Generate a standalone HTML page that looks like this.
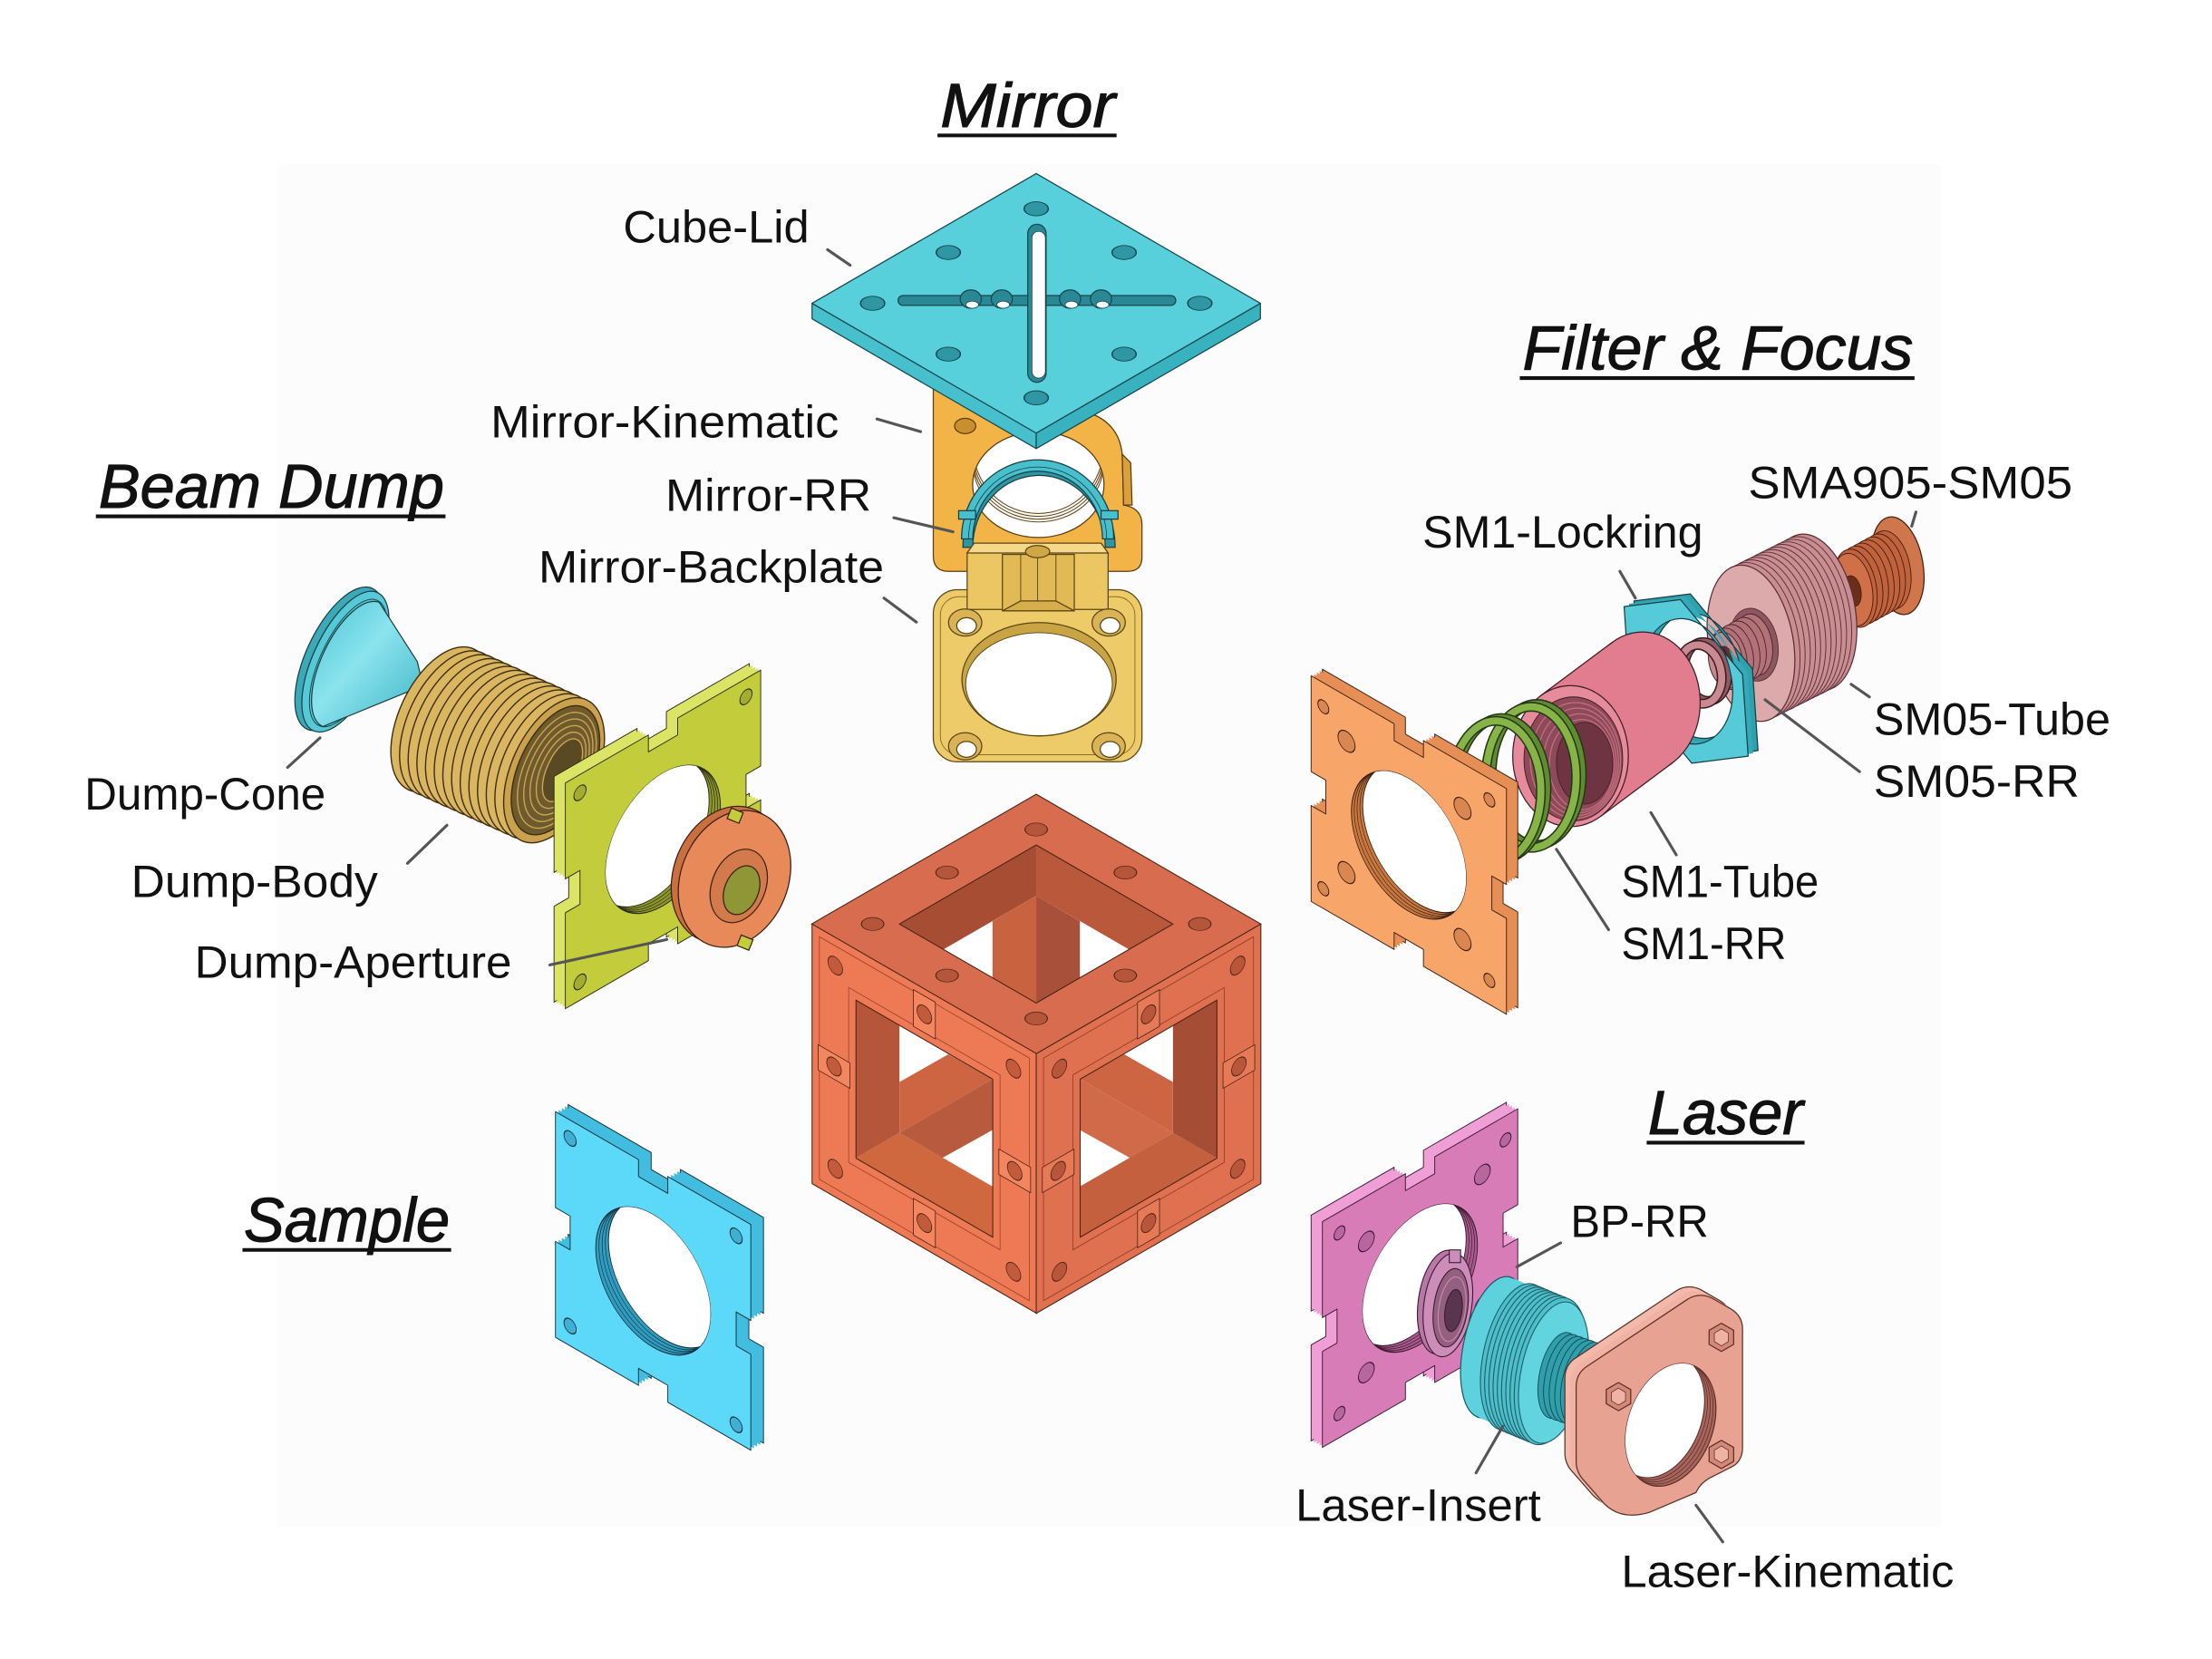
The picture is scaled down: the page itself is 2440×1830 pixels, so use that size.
<!DOCTYPE html>
<html><head><meta charset="utf-8">
<style>
html,body{margin:0;padding:0;background:#fff;}
svg{display:block;}
text{font-family:"Liberation Sans",sans-serif;fill:#111;}
</style></head><body>
<svg xmlns="http://www.w3.org/2000/svg" width="2440" height="1830" viewBox="0 0 1569 1176" preserveAspectRatio="none">
<defs>
<path id="plate" d="M0,0 H68 V12 H92 V0 H160 V68 H148 V92 H160 V160 H92 V148 H68 V160 H0 V92 H12 V68 H0 Z"/>
<clipPath id="hg"><circle cx="80" cy="80" r="47" transform="matrix(0.866 -0.5 0 1 401 555)"/></clipPath>
<clipPath id="hs"><circle cx="80" cy="80" r="47" transform="matrix(0.866 0.5 0 1 394 788)"/></clipPath>
<clipPath id="ho"><circle cx="80" cy="80" r="47" transform="matrix(0.866 0.5 0 1 930 479)"/></clipPath>
<clipPath id="hp"><circle cx="80" cy="80" r="47" transform="matrix(0.866 -0.5 0 1 938 866)"/></clipPath>
<clipPath id="hk"><ellipse cx="736.5" cy="343.5" rx="46.6" ry="37.5"/></clipPath>
<clipPath id="hlk"><ellipse cx="1185" cy="1010" rx="30" ry="45" transform="rotate(20 1185 1010)"/></clipPath>
<linearGradient id="coneG" x1="0" y1="0" x2="1" y2="1">
<stop offset="0" stop-color="#4cc3d1"/><stop offset="0.45" stop-color="#8ae4ee"/><stop offset="1" stop-color="#3fb3c2"/>
</linearGradient>
</defs>
<rect width="1569" height="1176" fill="#fff"/>
<rect x="197" y="117" width="1180" height="965" fill="#fcfcfc"/>

<!-- ============ BEAM DUMP ============ -->
<g stroke="#1d3f44" stroke-width="0.8">
<ellipse cx="241" cy="467" rx="24" ry="55" transform="rotate(25 241 467)" fill="#3aaab8"/>
<ellipse cx="245" cy="469" rx="23" ry="54" transform="rotate(25 245 469)" fill="#55c9d6"/>
<ellipse cx="247" cy="470" rx="20" ry="49" transform="rotate(25 247 470)" fill="none" stroke-width="0.6"/>
<ellipse cx="249" cy="471" rx="18" ry="45" transform="rotate(25 249 471)" fill="none" stroke-width="0.6"/>
<path d="M269,427 L296,469 L300,486 L229,515 A21 48 25 0 1 269,427 Z" fill="url(#coneG)"/>
</g>
<g stroke="#3e2e10" stroke-width="0.9" fill="#d9b65f">
<ellipse cx="313" cy="510" rx="30" ry="55" transform="rotate(25 313 510)"/>
<ellipse cx="319.2" cy="512.8" rx="30" ry="55" transform="rotate(25 319.2 512.8)"/>
<ellipse cx="325.3" cy="515.5" rx="30" ry="55" transform="rotate(25 325.3 515.5)"/>
<ellipse cx="331.5" cy="518.3" rx="30" ry="55" transform="rotate(25 331.5 518.3)"/>
<ellipse cx="337.6" cy="521.1" rx="30" ry="55" transform="rotate(25 337.6 521.1)"/>
<ellipse cx="343.8" cy="523.8" rx="30" ry="55" transform="rotate(25 343.8 523.8)"/>
<ellipse cx="349.9" cy="526.6" rx="30" ry="55" transform="rotate(25 349.9 526.6)"/>
<ellipse cx="356.1" cy="529.4" rx="30" ry="55" transform="rotate(25 356.1 529.4)"/>
<ellipse cx="362.2" cy="532.2" rx="30" ry="55" transform="rotate(25 362.2 532.2)"/>
<ellipse cx="368.4" cy="534.9" rx="30" ry="55" transform="rotate(25 368.4 534.9)"/>
<ellipse cx="374.5" cy="537.7" rx="30" ry="55" transform="rotate(25 374.5 537.7)"/>
<ellipse cx="380.7" cy="540.5" rx="30" ry="55" transform="rotate(25 380.7 540.5)"/>
<ellipse cx="386.8" cy="543.2" rx="30" ry="55" transform="rotate(25 386.8 543.2)"/>
<ellipse cx="393" cy="546" rx="30" ry="55" transform="rotate(25 393 546)" fill="#caa24e"/>
<ellipse cx="394" cy="546" rx="26" ry="49" transform="rotate(25 394 546)" fill="#6e5a2c"/>
<ellipse cx="395" cy="546" rx="23" ry="44" transform="rotate(25 395 546)" fill="none" stroke="#c9a552"/>
<ellipse cx="396" cy="546" rx="20" ry="39" transform="rotate(25 396 546)" fill="none" stroke="#c9a552"/>
<ellipse cx="397" cy="546" rx="17" ry="34" transform="rotate(25 397 546)" fill="none" stroke="#c9a552"/>
<ellipse cx="398" cy="546" rx="14" ry="29" transform="rotate(25 398 546)" fill="none" stroke="#c9a552"/>
<ellipse cx="399" cy="546" rx="11" ry="24" transform="rotate(25 399 546)" fill="#5a4a24" stroke="#c9a552"/>
</g>
<!-- green plate -->
<g stroke="#2b2b14" stroke-width="0.7" stroke-linejoin="round">
<g fill="#dce466">
<use href="#plate" transform="translate(-8,-4.6) matrix(0.866 -0.5 0 1 401 555)"/>
<use href="#plate" transform="translate(-6,-3.45) matrix(0.866 -0.5 0 1 401 555)" stroke="none"/>
<use href="#plate" transform="translate(-4,-2.3) matrix(0.866 -0.5 0 1 401 555)" stroke="none"/>
<use href="#plate" transform="translate(-2,-1.15) matrix(0.866 -0.5 0 1 401 555)" stroke="none"/>
</g>
<use href="#plate" transform="matrix(0.866 -0.5 0 1 401 555)" fill="#c3cd3b"/>
<g transform="matrix(0.866 -0.5 0 1 401 555)" fill="#a2ad30">
<circle cx="12" cy="13" r="5"/><circle cx="148" cy="13" r="5"/><circle cx="12" cy="147" r="5"/><circle cx="148" cy="147" r="5"/>
</g>
<circle cx="80" cy="80" r="47" transform="matrix(0.866 -0.5 0 1 401 555)" fill="#8d982b"/>
<g clip-path="url(#hg)" fill="none" stroke-width="0.5">
<circle cx="80" cy="80" r="47" transform="translate(-2,-1.15) matrix(0.866 -0.5 0 1 401 555)"/>
<circle cx="80" cy="80" r="47" transform="translate(-4,-2.3) matrix(0.866 -0.5 0 1 401 555)"/>
<circle cx="80" cy="80" r="47" transform="translate(-6,-3.45) matrix(0.866 -0.5 0 1 401 555)"/>
<circle cx="80" cy="80" r="47" transform="translate(-8,-4.6) matrix(0.866 -0.5 0 1 401 555)" fill="#fff" stroke-width="0.7"/>
</g>
</g>
<!-- aperture -->
<g stroke="#3a2010" stroke-width="0.8">
<ellipse cx="516" cy="620" rx="38" ry="50" transform="rotate(22 516 620)" fill="#c96f40"/>
<ellipse cx="521" cy="623" rx="38" ry="50" transform="rotate(22 521 623)" fill="#e8895a"/>
<ellipse cx="524" cy="628" rx="19" ry="27" transform="rotate(22 524 628)" fill="#d27a4c"/>
<ellipse cx="526" cy="631" rx="12" ry="18" transform="rotate(22 526 631)" fill="#8f9636"/>
<rect x="517" y="574" width="9" height="8" fill="#c3cd3b" transform="rotate(22 521 578)"/>
<rect x="524" y="664" width="9" height="8" fill="#c3cd3b" transform="rotate(22 528 668)"/>
</g>

<!-- ============ SAMPLE PLATE ============ -->
<g stroke="#14303a" stroke-width="0.7" stroke-linejoin="round">
<g fill="#42bde0">
<use href="#plate" transform="translate(9,-5) matrix(0.866 0.5 0 1 394 788)"/>
<use href="#plate" transform="translate(6.75,-3.75) matrix(0.866 0.5 0 1 394 788)" stroke="none"/>
<use href="#plate" transform="translate(4.5,-2.5) matrix(0.866 0.5 0 1 394 788)" stroke="none"/>
<use href="#plate" transform="translate(2.25,-1.25) matrix(0.866 0.5 0 1 394 788)" stroke="none"/>
</g>
<use href="#plate" transform="matrix(0.866 0.5 0 1 394 788)" fill="#5cd8f8"/>
<g transform="matrix(0.866 0.5 0 1 394 788)" fill="#3fb0d4">
<circle cx="12" cy="13" r="5"/><circle cx="148" cy="14" r="5"/><circle cx="12" cy="146" r="5"/><circle cx="148" cy="148" r="5"/>
</g>
<circle cx="80" cy="80" r="47" transform="matrix(0.866 0.5 0 1 394 788)" fill="#2f9cc0"/>
<g clip-path="url(#hs)" fill="none" stroke-width="0.5">
<circle cx="80" cy="80" r="47" transform="translate(2.25,-1.25) matrix(0.866 0.5 0 1 394 788)"/>
<circle cx="80" cy="80" r="47" transform="translate(4.5,-2.5) matrix(0.866 0.5 0 1 394 788)"/>
<circle cx="80" cy="80" r="47" transform="translate(6.75,-3.75) matrix(0.866 0.5 0 1 394 788)"/>
<circle cx="80" cy="80" r="47" transform="translate(9,-5) matrix(0.866 0.5 0 1 394 788)" fill="#fff" stroke-width="0.7"/>
</g>
</g>

<!-- ============ MIRROR ============ -->
<g stroke="#5a3d10" stroke-width="0.8">
<path d="M662,270 L662,394 Q662,405 673,405 L800,405 Q810,405 810,395 L810,372 Q810,360 797,358 L796,322 Q794,302 776,294 L740,278 Z" fill="#f2b447"/>
<path d="M796,322 L802,328 L803,358 L797,358 Z" fill="#dca03a"/>
<ellipse cx="736.5" cy="343.5" rx="46.6" ry="37.5" fill="#fff"/>
<g clip-path="url(#hk)" fill="none" stroke="#6b4a1d" stroke-width="0.7">
<ellipse cx="736.5" cy="330" rx="46" ry="40"/>
<ellipse cx="736.5" cy="326" rx="46" ry="42"/>
<ellipse cx="736.5" cy="322" rx="46" ry="44"/>
<ellipse cx="736.5" cy="318" rx="46" ry="46"/>
</g>
<ellipse cx="684.6" cy="302" rx="7.5" ry="5.4" fill="#c98f2e"/>
</g>
<g stroke="#173f44" stroke-width="0.8">
<path d="M683,388 A54,58 0 0 1 791,388 L784,388 A47,51 0 0 0 690,388 Z" fill="#2e95a2"/>
<path d="M682,382 A54,56 0 0 1 790,382 L782,382 A46,48 0 0 0 690,382 Z" fill="#47bfcc"/>
<path d="M687,382 A49,51 0 0 1 785,382" fill="none" stroke-width="0.5"/>
<rect x="680" y="362" width="12" height="6" fill="#47bfcc"/>
<rect x="781" y="362" width="12" height="6" fill="#47bfcc"/>
</g>
<g stroke="#5a4515" stroke-width="0.8">
<rect x="662" y="418" width="148" height="122" rx="17" fill="#eecb69"/>
<rect x="667" y="423" width="138" height="112" rx="13" fill="none" stroke="#8a6d25" stroke-width="0.6"/>
<path d="M686,432 L686,392 L691,385 L781,385 L786,392 L786,432 Z" fill="#ebc663"/>
<path d="M686,392 L691,385 L781,385 L786,392 Z" fill="#f5d889"/>
<rect x="711" y="393" width="51" height="40" fill="#e2ba55"/>
<line x1="724" y1="393" x2="724" y2="433" stroke-width="0.6"/>
<line x1="736" y1="393" x2="736" y2="433" stroke-width="0.6"/>
<line x1="749" y1="393" x2="749" y2="433" stroke-width="0.6"/>
<path d="M711,433 L724,426 L749,426 L762,433 Z" fill="#d6ae4c"/>
<ellipse cx="736" cy="391" rx="8.6" ry="4.3" fill="#cfa744"/>
<ellipse cx="737" cy="481.5" rx="54.7" ry="40.2" fill="#c9a445"/>
<ellipse cx="737" cy="485" rx="52" ry="36.5" fill="#fff" stroke-width="0.6"/>
<ellipse cx="684.6" cy="441.3" rx="11.8" ry="9.6" fill="#d9b356"/>
<ellipse cx="786.4" cy="441.3" rx="11.8" ry="9.6" fill="#d9b356"/>
<ellipse cx="684.6" cy="529" rx="11.8" ry="9.6" fill="#d9b356"/>
<ellipse cx="786.4" cy="529" rx="11.8" ry="9.6" fill="#d9b356"/>
<ellipse cx="685.6" cy="443.5" rx="7" ry="5.6" fill="#fff"/>
<ellipse cx="787.4" cy="443.5" rx="7" ry="5.6" fill="#fff"/>
<ellipse cx="685.6" cy="531.2" rx="7" ry="5.6" fill="#fff"/>
<ellipse cx="787.4" cy="531.2" rx="7" ry="5.6" fill="#fff"/>
</g>
<!-- lid -->
<g stroke="#17474d" stroke-width="0.8" stroke-linejoin="round">
<polygon points="576,215 735,307 735,318 576,226" fill="#46c0cd"/>
<polygon points="735,307 894,215 894,226 735,318" fill="#39b2bf"/>
<polygon points="735,123 894,215 735,307 576,215" fill="#57d0dc"/>
<g transform="matrix(0.866 0.5 -0.866 0.5 735 123)" fill="#2f97a3">
<circle cx="25" cy="25" r="7"/><circle cx="159" cy="25" r="7"/><circle cx="25" cy="159" r="7"/><circle cx="159" cy="159" r="7"/>
<circle cx="92" cy="20" r="7"/><circle cx="20" cy="92" r="7"/><circle cx="164" cy="92" r="7"/><circle cx="92" cy="164" r="7"/>
</g>
<rect x="637" y="209.5" width="197" height="7" rx="3.5" fill="#2a8894"/>
<ellipse cx="688.6" cy="212" rx="7.5" ry="6.5" fill="#2a8894"/>
<ellipse cx="710.6" cy="212" rx="7.5" ry="6.5" fill="#2a8894"/>
<ellipse cx="759" cy="212" rx="7.5" ry="6.5" fill="#2a8894"/>
<ellipse cx="781" cy="212" rx="7.5" ry="6.5" fill="#2a8894"/>
<g fill="#fff" stroke-width="0.5">
<ellipse cx="689.6" cy="216" rx="4.5" ry="2.5"/><ellipse cx="711.6" cy="216" rx="4.5" ry="2.5"/>
<ellipse cx="760" cy="216" rx="4.5" ry="2.5"/><ellipse cx="782" cy="216" rx="4.5" ry="2.5"/>
</g>
<rect x="729" y="159" width="13" height="112" rx="6.5" fill="#2a8894"/>
<rect x="732" y="164" width="9.5" height="104" rx="4.75" fill="#fff" stroke-width="0.5"/>
</g>

<!-- ============ CUBE ============ -->
<g stroke="none">
<polygon points="735,599 832,655 735,711 638,655" fill="#fff"/>
<polygon points="735,599 638,655 669.2,673 735,635" fill="#a64d34"/>
<polygon points="735,599 832,655 800.8,673 735,635" fill="#b9583b"/>
<polygon points="704,653 735,635 735,711 704,693" fill="#c9623f"/>
<polygon points="735,635 766,653 766,693 735,711" fill="#a9503a"/>
<polygon points="607,709 704,765 704,877 607,821" fill="#fff"/>
<polygon points="607,709 638,727 638,803 607,821" fill="#b5553a"/>
<polygon points="638,767 672.6,747.4 704,765 638,803" fill="#cd6543"/>
<polygon points="638,803 704,765 704,801 668.6,820.7" fill="#b85a3e"/>
<polygon points="607,821 638,803 704,841 704,877" fill="#d0683f"/>
<polygon points="766,765 863,709 863,821 766,877" fill="#fff"/>
<polygon points="863,709 832,727 832,803 863,821" fill="#a64d35"/>
<polygon points="832,767 797.4,747.4 766,765 832,803" fill="#cd6543"/>
<polygon points="832,803 766,765 766,801 801.4,820.7" fill="#d06a48"/>
<polygon points="863,821 832,803 766,841 766,877" fill="#c5603e"/>
</g>
<g stroke="#4a2416" stroke-width="0.8" stroke-linejoin="round">
<g transform="matrix(0.866 0.5 -0.866 0.5 735 563)">
<path d="M0,0H184V184H0Z M36,36V148H148V36Z" fill="#d76c4e" fill-rule="evenodd"/>
<g fill="#b5553a" stroke-width="0.6">
<circle cx="25" cy="25" r="6.5"/><circle cx="159" cy="25" r="6.5"/><circle cx="25" cy="159" r="6.5"/><circle cx="159" cy="159" r="6.5"/>
<circle cx="92" cy="19" r="6.5"/><circle cx="19" cy="92" r="6.5"/><circle cx="165" cy="92" r="6.5"/><circle cx="92" cy="165" r="6.5"/>
</g>
</g>
<g transform="matrix(0.866 0.5 0 1 576 655)">
<path d="M0,0H184V184H0Z M36,36V148H148V36Z" fill="#ee7a55" fill-rule="evenodd"/>
<rect x="6" y="6" width="172" height="172" fill="none" stroke="#9a4128" stroke-width="0.6"/>
<rect x="30" y="30" width="124" height="124" fill="none" stroke="#9a4128" stroke-width="0.6"/>
<g fill="#f3855f" stroke-width="0.6">
<rect x="83" y="5" width="18" height="26"/><rect x="5" y="83" width="26" height="18"/>
<rect x="153" y="83" width="26" height="18"/><rect x="83" y="153" width="18" height="26"/>
</g>
<g fill="#c25b3c" stroke-width="0.6">
<circle cx="92" cy="18" r="6"/><circle cx="18" cy="92" r="6"/><circle cx="166" cy="92" r="6"/><circle cx="92" cy="166" r="6"/>
<circle cx="19" cy="20" r="6"/><circle cx="165" cy="20" r="6"/><circle cx="19" cy="164" r="6"/><circle cx="165" cy="164" r="6"/>
</g>
</g>
<g transform="matrix(0.866 -0.5 0 1 735 747)">
<path d="M0,0H184V184H0Z M36,36V148H148V36Z" fill="#e07150" fill-rule="evenodd"/>
<rect x="6" y="6" width="172" height="172" fill="none" stroke="#8e3c25" stroke-width="0.6"/>
<rect x="30" y="30" width="124" height="124" fill="none" stroke="#8e3c25" stroke-width="0.6"/>
<g fill="#e67a57" stroke-width="0.6">
<rect x="83" y="5" width="18" height="26"/><rect x="5" y="83" width="26" height="18"/>
<rect x="153" y="83" width="26" height="18"/><rect x="83" y="153" width="18" height="26"/>
</g>
<g fill="#b9553a" stroke-width="0.6">
<circle cx="92" cy="18" r="6"/><circle cx="18" cy="92" r="6"/><circle cx="166" cy="92" r="6"/><circle cx="92" cy="166" r="6"/>
<circle cx="19" cy="20" r="6"/><circle cx="165" cy="20" r="6"/><circle cx="19" cy="164" r="6"/><circle cx="165" cy="164" r="6"/>
</g>
</g>
</g>

<!-- ============ FILTER & FOCUS ============ -->
<g stroke="#4a1e0e" stroke-width="0.6">
<ellipse cx="1346" cy="401" rx="18" ry="35" transform="rotate(-10 1346 401)" fill="#d0764c" stroke-width="0.8"/>
<ellipse cx="1340" cy="404" rx="15" ry="28" transform="rotate(-10 1340 404)" fill="#c0633d"/>
<ellipse cx="1336" cy="406.2" rx="15" ry="28" transform="rotate(-10 1336 406.2)" fill="#c0633d"/>
<ellipse cx="1332" cy="408.3" rx="15" ry="28" transform="rotate(-10 1332 408.3)" fill="#c0633d"/>
<ellipse cx="1328" cy="410.5" rx="15" ry="28" transform="rotate(-10 1328 410.5)" fill="#c0633d"/>
<ellipse cx="1324" cy="412.7" rx="15" ry="28" transform="rotate(-10 1324 412.7)" fill="#c0633d"/>
<ellipse cx="1320" cy="414.8" rx="15" ry="28" transform="rotate(-10 1320 414.8)" fill="#c0633d"/>
<ellipse cx="1316" cy="417" rx="15" ry="28" transform="rotate(-10 1316 417)" fill="#c0633d"/>
<ellipse cx="1314" cy="418" rx="14" ry="26" transform="rotate(-10 1314 418)" fill="#cf7048"/>
<ellipse cx="1314" cy="419" rx="6" ry="11" transform="rotate(-10 1314 419)" fill="#6b2e18"/>
</g>
<g stroke="#5a2e34" stroke-width="0.6" fill="#c98e92">
<ellipse cx="1286" cy="434" rx="30" ry="56" transform="rotate(-10 1286 434)" stroke-width="0.8"/>
<ellipse cx="1282.3" cy="435.8" rx="30" ry="56" transform="rotate(-10 1282.3 435.8)"/>
<ellipse cx="1278.7" cy="437.7" rx="30" ry="56" transform="rotate(-10 1278.7 437.7)"/>
<ellipse cx="1275" cy="439.5" rx="30" ry="56" transform="rotate(-10 1275 439.5)"/>
<ellipse cx="1271.3" cy="441.3" rx="30" ry="56" transform="rotate(-10 1271.3 441.3)"/>
<ellipse cx="1267.7" cy="443.2" rx="30" ry="56" transform="rotate(-10 1267.7 443.2)"/>
<ellipse cx="1264" cy="445" rx="30" ry="56" transform="rotate(-10 1264 445)"/>
<ellipse cx="1260.3" cy="446.8" rx="30" ry="56" transform="rotate(-10 1260.3 446.8)"/>
<ellipse cx="1256.7" cy="448.7" rx="30" ry="56" transform="rotate(-10 1256.7 448.7)"/>
<ellipse cx="1253" cy="450.5" rx="30" ry="56" transform="rotate(-10 1253 450.5)"/>
<ellipse cx="1249.3" cy="452.3" rx="30" ry="56" transform="rotate(-10 1249.3 452.3)"/>
<ellipse cx="1245.7" cy="454.2" rx="30" ry="56" transform="rotate(-10 1245.7 454.2)"/>
<ellipse cx="1242" cy="456" rx="30" ry="56" transform="rotate(-10 1242 456)" fill="#dcaaab" stroke-width="0.8"/>
<ellipse cx="1244" cy="457" rx="17" ry="26" transform="rotate(-10 1244 457)" fill="#8e5660"/>
</g>
<g stroke="#4a262c" stroke-width="0.6" fill="#b27278">
<ellipse cx="1244" cy="457" rx="13" ry="22" transform="rotate(-10 1244 457)"/>
<ellipse cx="1239.5" cy="459.5" rx="13" ry="22" transform="rotate(-10 1239.5 459.5)"/>
<ellipse cx="1235" cy="462" rx="13" ry="22" transform="rotate(-10 1235 462)"/>
<ellipse cx="1230.5" cy="464.5" rx="13" ry="22" transform="rotate(-10 1230.5 464.5)"/>
<ellipse cx="1226" cy="467" rx="13" ry="22" transform="rotate(-10 1226 467)"/>
<ellipse cx="1224" cy="468" rx="12" ry="20" transform="rotate(-10 1224 468)" fill="#c58a90"/>
<ellipse cx="1224" cy="469" rx="6" ry="11" transform="rotate(-10 1224 469)" fill="#5a3036"/>
</g>
<g fill="none">
<ellipse cx="1210" cy="476" rx="15" ry="21" transform="rotate(-10 1210 476)" stroke="#3a1e22" stroke-width="7"/>
<ellipse cx="1210" cy="476" rx="15" ry="21" transform="rotate(-10 1210 476)" stroke="#8f5a62" stroke-width="5"/>
<ellipse cx="1206" cy="478" rx="15" ry="21" transform="rotate(-10 1206 478)" stroke="#3a1e22" stroke-width="7"/>
<ellipse cx="1206" cy="478" rx="15" ry="21" transform="rotate(-10 1206 478)" stroke="#c98a92" stroke-width="5"/>
</g>
<g stroke="#173f44" stroke-width="0.8" fill-rule="evenodd" stroke-linejoin="round">
<path transform="translate(7,-4)" d="M1192,425 L1236,478 L1240,536 L1200,541 L1156,488 L1152,430 Z M1227.3,476.6 A31,43 -12 1 0 1166.7,489.4 A31,43 -12 1 0 1227.3,476.6 Z" fill="#2fa0ae"/>
<path transform="translate(3.5,-2)" d="M1192,425 L1236,478 L1240,536 L1200,541 L1156,488 L1152,430 Z M1227.3,476.6 A31,43 -12 1 0 1166.7,489.4 A31,43 -12 1 0 1227.3,476.6 Z" fill="#34a9b7" stroke="none"/>
<path d="M1192,425 L1236,478 L1240,536 L1200,541 L1156,488 L1152,430 Z M1227.3,476.6 A31,43 -12 1 0 1166.7,489.4 A31,43 -12 1 0 1227.3,476.6 Z" fill="#55cad8"/>
</g>
<g fill="#e17d8e" stroke="none">
<ellipse cx="1165" cy="498" rx="41" ry="50" stroke="#3e1c24" stroke-width="0.8"/>
<ellipse cx="1158.6" cy="502.75" rx="41" ry="50"/>
<ellipse cx="1152.25" cy="507.5" rx="41" ry="50"/>
<ellipse cx="1145.9" cy="512.25" rx="41" ry="50"/>
<ellipse cx="1139.5" cy="517" rx="41" ry="50"/>
<ellipse cx="1133.1" cy="521.75" rx="41" ry="50"/>
<ellipse cx="1126.75" cy="526.5" rx="41" ry="50"/>
<ellipse cx="1120.4" cy="531.25" rx="41" ry="50"/>
</g>
<g stroke="#3e1c24" stroke-width="0.8">
<line x1="1186.4" y1="540.7" x2="1135.4" y2="578.7"/>
<line x1="1143.6" y1="455.3" x2="1092.6" y2="493.3"/>
<ellipse cx="1114" cy="536" rx="41" ry="50" fill="#e68b9b"/>
<ellipse cx="1116" cy="538" rx="35" ry="44" fill="#8f4a59" stroke-width="0.6"/>
<g fill="none" stroke="#c2707f" stroke-width="0.8">
<ellipse cx="1117.5" cy="539" rx="32" ry="41"/>
<ellipse cx="1119" cy="540" rx="29" ry="38"/>
<ellipse cx="1120.5" cy="541" rx="26" ry="35"/>
<ellipse cx="1122" cy="542" rx="23" ry="32"/>
</g>
<ellipse cx="1124" cy="541" rx="20" ry="29" fill="#6e3442" stroke-width="0.5"/>
</g>
<g fill="none">
<ellipse cx="1090" cy="549" rx="32" ry="50" stroke="#26361a" stroke-width="7"/>
<ellipse cx="1090" cy="549" rx="32" ry="50" stroke="#5f8c2f" stroke-width="5"/>
<ellipse cx="1086" cy="551" rx="32" ry="50" stroke="#26361a" stroke-width="7"/>
<ellipse cx="1086" cy="551" rx="32" ry="50" stroke="#86b446" stroke-width="5"/>
<ellipse cx="1065" cy="559" rx="32" ry="50" stroke="#26361a" stroke-width="7"/>
<ellipse cx="1065" cy="559" rx="32" ry="50" stroke="#5f8c2f" stroke-width="5"/>
<ellipse cx="1061" cy="561" rx="32" ry="50" stroke="#26361a" stroke-width="7"/>
<ellipse cx="1061" cy="561" rx="32" ry="50" stroke="#86b446" stroke-width="5"/>
</g>
<g stroke="#3a2010" stroke-width="0.7" stroke-linejoin="round">
<g fill="#e58e56">
<use href="#plate" transform="translate(8,-4.6) matrix(0.866 0.5 0 1 930 479)"/>
<use href="#plate" transform="translate(6,-3.45) matrix(0.866 0.5 0 1 930 479)" stroke="none"/>
<use href="#plate" transform="translate(4,-2.3) matrix(0.866 0.5 0 1 930 479)" stroke="none"/>
<use href="#plate" transform="translate(2,-1.15) matrix(0.866 0.5 0 1 930 479)" stroke="none"/>
</g>
<use href="#plate" transform="matrix(0.866 0.5 0 1 930 479)" fill="#f8a56a"/>
<g transform="matrix(0.866 0.5 0 1 930 479)" fill="#d98650">
<circle cx="10" cy="17" r="4.5"/><circle cx="146" cy="15" r="4.5"/><circle cx="10" cy="146" r="4.5"/><circle cx="146" cy="143" r="4.5"/>
<circle cx="29" cy="32" r="7"/><circle cx="124" cy="32" r="7"/><circle cx="29" cy="125" r="7"/><circle cx="124" cy="125" r="7"/>
</g>
<circle cx="80" cy="80" r="47" transform="matrix(0.866 0.5 0 1 930 479)" fill="#c8773f"/>
<g clip-path="url(#ho)" fill="none" stroke-width="0.5">
<circle cx="80" cy="80" r="47" transform="translate(2,-1.15) matrix(0.866 0.5 0 1 930 479)"/>
<circle cx="80" cy="80" r="47" transform="translate(4,-2.3) matrix(0.866 0.5 0 1 930 479)"/>
<circle cx="80" cy="80" r="47" transform="translate(6,-3.45) matrix(0.866 0.5 0 1 930 479)"/>
<circle cx="80" cy="80" r="47" transform="translate(8,-4.6) matrix(0.866 0.5 0 1 930 479)" fill="#fff" stroke-width="0.7"/>
</g>
</g>

<!-- ============ LASER ============ -->
<g stroke="#3a1a30" stroke-width="0.7" stroke-linejoin="round">
<g fill="#ef9fd6">
<use href="#plate" transform="translate(-8,-4.6) matrix(0.866 -0.5 0 1 938 866)"/>
<use href="#plate" transform="translate(-6,-3.45) matrix(0.866 -0.5 0 1 938 866)" stroke="none"/>
<use href="#plate" transform="translate(-4,-2.3) matrix(0.866 -0.5 0 1 938 866)" stroke="none"/>
<use href="#plate" transform="translate(-2,-1.15) matrix(0.866 -0.5 0 1 938 866)" stroke="none"/>
</g>
<use href="#plate" transform="matrix(0.866 -0.5 0 1 938 866)" fill="#d77cb7"/>
<g transform="matrix(0.866 -0.5 0 1 938 866)" fill="#b866a0">
<circle cx="14" cy="15" r="4.5"/><circle cx="150" cy="17" r="4.5"/><circle cx="14" cy="143" r="4.5"/><circle cx="150" cy="146" r="4.5"/>
<circle cx="36" cy="32" r="6.5"/><circle cx="131" cy="32" r="6.5"/><circle cx="36" cy="125" r="6.5"/><circle cx="131" cy="125" r="6.5"/>
</g>
<circle cx="80" cy="80" r="47" transform="matrix(0.866 -0.5 0 1 938 866)" fill="#a85a8c"/>
<g clip-path="url(#hp)" fill="none" stroke-width="0.5">
<circle cx="80" cy="80" r="47" transform="translate(-2,-1.15) matrix(0.866 -0.5 0 1 938 866)"/>
<circle cx="80" cy="80" r="47" transform="translate(-4,-2.3) matrix(0.866 -0.5 0 1 938 866)"/>
<circle cx="80" cy="80" r="47" transform="translate(-6,-3.45) matrix(0.866 -0.5 0 1 938 866)"/>
<circle cx="80" cy="80" r="47" transform="translate(-8,-4.6) matrix(0.866 -0.5 0 1 938 866)" fill="#fff" stroke-width="0.7"/>
</g>
</g>
<g stroke="#3a1a30" stroke-width="0.7">
<ellipse cx="1023" cy="923" rx="17" ry="37" transform="rotate(8 1023 923)" fill="#b877a5"/>
<ellipse cx="1027" cy="925" rx="17" ry="37" transform="rotate(8 1027 925)" fill="#cd8dbb"/>
<ellipse cx="1029" cy="927" rx="12" ry="28" transform="rotate(8 1029 927)" fill="#94607f"/>
<ellipse cx="1030" cy="928" rx="9.5" ry="23" transform="rotate(8 1030 928)" fill="none" stroke="#c98ab4"/>
<ellipse cx="1031" cy="929" rx="6" ry="15" transform="rotate(8 1031 929)" fill="#5a3550"/>
<rect x="1028" y="886" width="8" height="9" fill="#cd8dbb"/>
</g>
<g fill="#5dd2de" stroke="none">
<ellipse cx="1060" cy="955" rx="22" ry="51" transform="rotate(12 1060 955)" stroke="#1f5c64" stroke-width="0.8"/>
<ellipse cx="1063.5" cy="956.5" rx="22" ry="51" transform="rotate(12 1063.5 956.5)"/>
<ellipse cx="1067" cy="958" rx="22" ry="51" transform="rotate(12 1067 958)"/>
<ellipse cx="1070.5" cy="959.5" rx="22" ry="51" transform="rotate(12 1070.5 959.5)"/>
<ellipse cx="1074" cy="961" rx="22" ry="51" transform="rotate(12 1074 961)"/>
</g>
<g fill="#4cbfcb" stroke="#1f5c64" stroke-width="0.7">
<ellipse cx="1076" cy="962" rx="24" ry="53" transform="rotate(12 1076 962)"/>
<ellipse cx="1079" cy="963.25" rx="24" ry="53" transform="rotate(12 1079 963.25)"/>
<ellipse cx="1082" cy="964.5" rx="24" ry="53" transform="rotate(12 1082 964.5)"/>
<ellipse cx="1085" cy="965.75" rx="24" ry="53" transform="rotate(12 1085 965.75)"/>
<ellipse cx="1088" cy="967" rx="24" ry="53" transform="rotate(12 1088 967)"/>
<ellipse cx="1091" cy="968.25" rx="24" ry="53" transform="rotate(12 1091 968.25)"/>
<ellipse cx="1094" cy="969.5" rx="24" ry="53" transform="rotate(12 1094 969.5)"/>
<ellipse cx="1097" cy="970.75" rx="24" ry="53" transform="rotate(12 1097 970.75)"/>
<ellipse cx="1100" cy="972" rx="24" ry="53" transform="rotate(12 1100 972)"/>
<ellipse cx="1102" cy="973" rx="23" ry="51" transform="rotate(12 1102 973)" fill="#62d4e0"/>
</g>
<g fill="#2f9fac" stroke="#174a50" stroke-width="0.6">
<ellipse cx="1106" cy="975" rx="14" ry="31" transform="rotate(12 1106 975)"/>
<ellipse cx="1110" cy="976.4" rx="14" ry="31" transform="rotate(12 1110 976.4)"/>
<ellipse cx="1114" cy="977.8" rx="14" ry="31" transform="rotate(12 1114 977.8)"/>
<ellipse cx="1118" cy="979.2" rx="14" ry="31" transform="rotate(12 1118 979.2)"/>
<ellipse cx="1122" cy="980.6" rx="14" ry="31" transform="rotate(12 1122 980.6)"/>
<ellipse cx="1126" cy="982" rx="14" ry="31" transform="rotate(12 1126 982)"/>
<ellipse cx="1128" cy="983" rx="13" ry="29" transform="rotate(12 1128 983)" fill="#45b5c2"/>
</g>
<g stroke="#5a3028" stroke-width="0.8" stroke-linejoin="round">
<path transform="translate(-8,-6)" d="M1125,969 L1197,921 Q1205,916 1214,920 L1228,928 Q1236,933 1236,942 L1236,1026 Q1236,1036 1228,1040 L1214,1047 Q1206,1051 1203,1058 L1170,1072 Q1150,1078 1138,1066 L1124,1050 Q1118,1044 1118,1036 L1118,983 Q1118,974 1125,969 Z" fill="#f3b9aa"/>
<path transform="translate(-4,-3)" d="M1125,969 L1197,921 Q1205,916 1214,920 L1228,928 Q1236,933 1236,942 L1236,1026 Q1236,1036 1228,1040 L1214,1047 Q1206,1051 1203,1058 L1170,1072 Q1150,1078 1138,1066 L1124,1050 Q1118,1044 1118,1036 L1118,983 Q1118,974 1125,969 Z" fill="#f0b2a2" stroke="none"/>
<path d="M1125,969 L1197,921 Q1205,916 1214,920 L1228,928 Q1236,933 1236,942 L1236,1026 Q1236,1036 1228,1040 L1214,1047 Q1206,1051 1203,1058 L1170,1072 Q1150,1078 1138,1066 L1124,1050 Q1118,1044 1118,1036 L1118,983 Q1118,974 1125,969 Z" fill="#e8a292"/>
<ellipse cx="1185" cy="1010" rx="30" ry="45" transform="rotate(20 1185 1010)" fill="#a8655c"/>
<g clip-path="url(#hlk)" fill="none" stroke-width="0.5">
<ellipse cx="1183" cy="1008.5" rx="30" ry="45" transform="rotate(20 1183 1008.5)"/>
<ellipse cx="1181" cy="1007" rx="30" ry="45" transform="rotate(20 1181 1007)"/>
<ellipse cx="1179" cy="1005.5" rx="30" ry="45" transform="rotate(20 1179 1005.5)"/>
<ellipse cx="1177" cy="1004" rx="30" ry="45" transform="rotate(20 1177 1004)" fill="#fff" stroke-width="0.7"/>
</g>
<g fill="#d48878">
<polygon points="1221,938 1229.7,943 1229.7,953 1221,958 1212.3,953 1212.3,943"/>
<polygon points="1148,980 1156.7,985 1156.7,995 1148,1000 1139.3,995 1139.3,985"/>
<polygon points="1221,1021 1229.7,1026 1229.7,1036 1221,1041 1212.3,1036 1212.3,1026"/>
</g>
<g fill="#efb3a4" stroke-width="0.5">
<polygon points="1221,942 1226,945 1226,951 1221,954 1216,951 1216,945"/>
<polygon points="1148,984 1153,987 1153,993 1148,996 1143,993 1143,987"/>
<polygon points="1221,1025 1226,1028 1226,1034 1221,1037 1216,1034 1216,1028"/>
</g>
</g>

<!-- ============ LEADER LINES ============ -->
<g stroke="#555" stroke-width="2" stroke-linecap="round">
<line x1="587" y1="177" x2="603" y2="188"/>
<line x1="622" y1="297" x2="653" y2="306"/>
<line x1="634" y1="367" x2="676" y2="377"/>
<line x1="627" y1="424" x2="650" y2="441"/>
<line x1="1359" y1="363" x2="1356" y2="373"/>
<line x1="1149" y1="405" x2="1160" y2="424"/>
<line x1="1313" y1="485" x2="1326" y2="494"/>
<line x1="1252" y1="496" x2="1319" y2="547"/>
<line x1="1171" y1="576" x2="1189" y2="606"/>
<line x1="1104" y1="602" x2="1141" y2="659"/>
<line x1="204" y1="544" x2="227" y2="523"/>
<line x1="289" y1="612" x2="317" y2="585"/>
<line x1="390" y1="684" x2="473" y2="666"/>
<line x1="1076" y1="898" x2="1107" y2="881"/>
<line x1="1047" y1="1044" x2="1066" y2="1011"/>
<line x1="1203" y1="1067" x2="1222" y2="1093"/>
</g>

<!-- ============ LABELS ============ -->
<g font-size="32">
<text x="442" y="172" textLength="132" lengthAdjust="spacingAndGlyphs">Cube-Lid</text>
<text x="348" y="310" textLength="247" lengthAdjust="spacingAndGlyphs">Mirror-Kinematic</text>
<text x="472" y="362" textLength="146" lengthAdjust="spacingAndGlyphs">Mirror-RR</text>
<text x="382" y="413" textLength="245" lengthAdjust="spacingAndGlyphs">Mirror-Backplate</text>
<text x="1240" y="353" textLength="230" lengthAdjust="spacingAndGlyphs">SMA905-SM05</text>
<text x="1009" y="388" textLength="199" lengthAdjust="spacingAndGlyphs">SM1-Lockring</text>
<text x="1329" y="521" textLength="168" lengthAdjust="spacingAndGlyphs">SM05-Tube</text>
<text x="1329" y="565" textLength="146" lengthAdjust="spacingAndGlyphs">SM05-RR</text>
<text x="1150" y="636" textLength="140" lengthAdjust="spacingAndGlyphs">SM1-Tube</text>
<text x="1150" y="680" textLength="117" lengthAdjust="spacingAndGlyphs">SM1-RR</text>
<text x="60" y="574" textLength="171" lengthAdjust="spacingAndGlyphs">Dump-Cone</text>
<text x="93" y="636" textLength="175" lengthAdjust="spacingAndGlyphs">Dump-Body</text>
<text x="138" y="693" textLength="225" lengthAdjust="spacingAndGlyphs">Dump-Aperture</text>
<text x="1114" y="877" textLength="98" lengthAdjust="spacingAndGlyphs">BP-RR</text>
<text x="919" y="1078" textLength="174" lengthAdjust="spacingAndGlyphs">Laser-Insert</text>
<text x="1150" y="1125" textLength="236" lengthAdjust="spacingAndGlyphs">Laser-Kinematic</text>
</g>

<!-- ============ HEADINGS ============ -->
<g font-size="44" font-style="italic" stroke="#111" stroke-width="0.7">
<text x="667" y="90" textLength="124" lengthAdjust="spacingAndGlyphs">Mirror</text>
<text x="1080" y="262" textLength="277" lengthAdjust="spacingAndGlyphs">Filter &amp; Focus</text>
<text x="70" y="360" textLength="245" lengthAdjust="spacingAndGlyphs">Beam Dump</text>
<text x="1169" y="804" textLength="110" lengthAdjust="spacingAndGlyphs">Laser</text>
<text x="173" y="880" textLength="146" lengthAdjust="spacingAndGlyphs">Sample</text>
</g>
<g stroke="#111" stroke-width="2.6">
<line x1="665" y1="96" x2="792" y2="96"/>
<line x1="1078" y1="268" x2="1358" y2="268"/>
<line x1="68" y1="366" x2="316" y2="366"/>
<line x1="1168" y1="810" x2="1280" y2="810"/>
<line x1="172" y1="886" x2="320" y2="886"/>
</g>
</svg>
</body></html>
